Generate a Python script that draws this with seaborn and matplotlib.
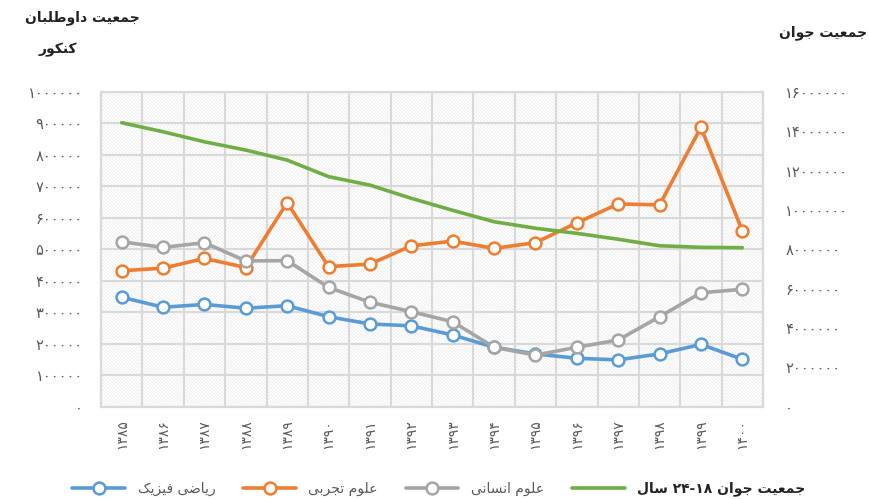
import re
import numpy as np
import pandas as pd
import seaborn as sns
import matplotlib
matplotlib.use('Agg')
import matplotlib.pyplot as plt
from matplotlib.lines import Line2D
from matplotlib.patches import Rectangle

# data
years = list(range(1385, 1401))
riazi = [348000, 316000, 325000, 313000, 321000, 286000, 263000, 257000,
         228000, 189000, 168000, 154000, 149000, 168000, 198000, 151000]
tajrobi = [432000, 440000, 471000, 442000, 648000, 445000, 453000, 511000,
           526000, 503000, 521000, 584000, 644000, 641000, 887000, 559000]
ensani = [524000, 506000, 521000, 463000, 464000, 379000, 332000, 302000,
          270000, 189000, 164000, 189000, 212000, 286000, 362000, 373000]
javan = [14430000, 13970000, 13460000, 13040000, 12530000, 11690000, 11260000, 10590000,
         9980000, 9400000, 9070000, 8810000, 8510000, 8180000, 8100000, 8080000]

left_ticks = list(range(0, 1000001, 100000))
right_ticks = list(range(0, 16000001, 2000000))

label_riazi = 'ریاضی فیزیک'
label_tajrobi = 'علوم تجربی'
label_ensani = 'علوم انسانی'
label_javan = 'جمعیت جوان ۱۸-۲۴ سال'
left_title = ['جمعیت داوطلبان', 'کنکور']
right_title = 'جمعیت جوان'

colors = {'riazi': '#5B9BD5', 'tajrobi': '#ED7D31', 'ensani': '#A5A5A5', 'javan': '#70AD47'}

# --- minimal persian shaping (matplotlib has no complex text layout) ---
FORMS = {
    'ا': ('\uFE8D', '\uFE8E', None, None),
    'ب': ('\uFE8F', '\uFE90', '\uFE91', '\uFE92'),
    'ت': ('\uFE95', '\uFE96', '\uFE97', '\uFE98'),
    'ج': ('\uFE9D', '\uFE9E', '\uFE9F', '\uFEA0'),
    'د': ('\uFEA9', '\uFEAA', None, None),
    'ر': ('\uFEAD', '\uFEAE', None, None),
    'ز': ('\uFEAF', '\uFEB0', None, None),
    'س': ('\uFEB1', '\uFEB2', '\uFEB3', '\uFEB4'),
    'ض': ('\uFEBD', '\uFEBE', '\uFEBF', '\uFEC0'),
    'ط': ('\uFEC1', '\uFEC2', '\uFEC3', '\uFEC4'),
    'ع': ('\uFEC9', '\uFECA', '\uFECB', '\uFECC'),
    'ف': ('\uFED1', '\uFED2', '\uFED3', '\uFED4'),
    'ل': ('\uFEDD', '\uFEDE', '\uFEDF', '\uFEE0'),
    'م': ('\uFEE1', '\uFEE2', '\uFEE3', '\uFEE4'),
    'ن': ('\uFEE5', '\uFEE6', '\uFEE7', '\uFEE8'),
    'و': ('\uFEED', '\uFEEE', None, None),
    '\u06A9': ('\uFB8E', '\uFB8F', '\uFB90', '\uFB91'),
    '\u06CC': ('\uFBFC', '\uFBFD', '\uFBFE', '\uFBFF'),
}


def fa(text):
    text = text.replace('\u064A', '\u06CC').replace('\u0643', '\u06A9')
    out = []
    i = 0
    n = len(text)
    while i < n:
        c = text[i]
        if c not in FORMS:
            out.append(c)
            i += 1
            continue
        prev = text[i - 1] if i > 0 else None
        join_prev = prev in FORMS and FORMS[prev][2] is not None
        if c == 'ل' and i + 1 < n and text[i + 1] == 'ا':
            out.append('\uFEFC' if join_prev else '\uFEFB')
            i += 2
            continue
        nxt = text[i + 1] if i + 1 < n else None
        iso, fin, ini, med = FORMS[c]
        join_next = ini is not None and nxt in FORMS
        if join_prev and join_next:
            out.append(med)
        elif join_prev:
            out.append(fin)
        elif join_next:
            out.append(ini)
        else:
            out.append(iso)
        i += 1
    s = ''.join(out)[::-1]
    return re.sub('[۰-۹]+', lambda m: m.group()[::-1], s)


def fa_num(v):
    return str(int(v)).translate(str.maketrans('0123456789', '۰۱۲۳۴۵۶۷۸۹'))


df = pd.DataFrame({'year': years, 'riazi': riazi, 'tajrobi': tajrobi,
                   'ensani': ensani, 'javan': javan})
df['pos'] = np.arange(len(df))

sns.set_style('white')
plt.rcParams['font.family'] = ['DejaVu Sans']
plt.rcParams['hatch.linewidth'] = 0.6

grid_c = '#d9d9d9'
text_c = '#595959'

fig = plt.figure(figsize=(8.69, 4.99), dpi=100)
ax = fig.add_axes([101 / 869, 1 - 406.8 / 499, 662 / 869, 315 / 499])

# hatched background
ax.add_patch(Rectangle((0, 0), 1, 1, transform=ax.transAxes, facecolor='white',
                       edgecolor='#ebebeb', hatch='\\' * 10, linewidth=0, zorder=0.1))

mk = dict(marker='o', markersize=8.5, markerfacecolor='white', markeredgewidth=1.8)
for key in ['riazi', 'tajrobi', 'ensani']:
    sns.lineplot(data=df, x='pos', y=key, ax=ax, color=colors[key], linewidth=2.6,
                 markeredgecolor=colors[key], zorder=3, **mk)

ax.set_xlim(-0.5, len(years) - 0.5)
ax.set_ylim(0, 1000000)
ax.set_yticks(left_ticks)
ax.set_yticklabels([fa_num(v) for v in left_ticks])
ax.set_xticks(df['pos'])
ax.set_xticklabels([fa_num(y) for y in years], rotation=90)
ax.set_xticks(np.arange(-0.5, len(years)), minor=True)
ax.set_xlabel('')
ax.set_ylabel('')
ax.set_axisbelow(True)
ax.grid(axis='y', which='major', color=grid_c, linewidth=1.5)
ax.grid(axis='x', which='minor', color=grid_c, linewidth=1.5)
ax.tick_params(axis='y', length=0, pad=13, labelsize=10.5, labelcolor=text_c)
ax.tick_params(axis='x', which='major', length=0, pad=9, labelsize=10, labelcolor=text_c)
ax.tick_params(axis='x', which='minor', length=8, width=1.5, color=grid_c, direction='out')
for sp in ax.spines.values():
    sp.set_color(grid_c)
    sp.set_linewidth(1.5)

ax2 = ax.twinx()
sns.lineplot(data=df, x='pos', y='javan', ax=ax2, color=colors['javan'], linewidth=2.6, zorder=3)
ax2.set_ylim(0, 16000000)
ax2.set_yticks(right_ticks)
ax2.set_yticklabels([fa_num(v) for v in right_ticks])
ax2.set_ylabel('')
ax2.tick_params(axis='y', length=0, pad=16, labelsize=10.5, labelcolor=text_c)
for sp in ax2.spines.values():
    sp.set_color(grid_c)
    sp.set_linewidth(1.5)

fig.text(82 / 869, 1 - 18 / 499, fa(left_title[0]), ha='center', va='center',
         fontsize=10, fontweight='bold', color='#222222')
fig.text(58 / 869, 1 - 50 / 499, fa(left_title[1]), ha='center', va='center',
         fontsize=10, fontweight='bold', color='#222222')
fig.text(823 / 869, 1 - 33 / 499, fa(right_title), ha='center', va='center',
         fontsize=10, fontweight='bold', color='#222222')

handles = [
    Line2D([], [], color=colors['riazi'], linewidth=2.6, markeredgecolor=colors['riazi'], **mk),
    Line2D([], [], color=colors['tajrobi'], linewidth=2.6, markeredgecolor=colors['tajrobi'], **mk),
    Line2D([], [], color=colors['ensani'], linewidth=2.6, markeredgecolor=colors['ensani'], **mk),
    Line2D([], [], color=colors['javan'], linewidth=2.6),
]
labels = [fa(label_riazi), fa(label_tajrobi), fa(label_ensani), fa(label_javan)]
leg = fig.legend(handles, labels, loc='center', bbox_to_anchor=(0.505, 1 - 489 / 499),
                 ncol=4, frameon=False, handlelength=3.8, handletextpad=0.9,
                 columnspacing=2.0, fontsize=10)
for t in leg.get_texts()[:3]:
    t.set_color(text_c)
leg.get_texts()[3].set_color('#222222')
leg.get_texts()[3].set_fontweight('bold')

fig.savefig('out.png', dpi=100)
